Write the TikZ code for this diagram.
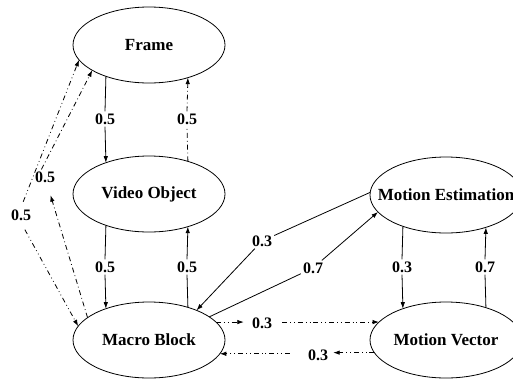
\documentclass[tikz,border=0pt]{standalone}
\usepackage{fontspec}
\setmainfont{Liberation Serif}
\usetikzlibrary{shapes.geometric,arrows.meta}
\tikzset{
  ell/.style={ellipse, draw, line width=0.8pt, minimum width=152pt, minimum height=76pt,
    inner sep=0pt, outer sep=0pt, font=\bfseries\fontsize{17}{20}\selectfont},
  lab/.style={inner sep=2pt, font=\bfseries\fontsize{16}{19}\selectfont},
  ln/.style={line width=0.8pt},
  arr/.style={ln, -{Latex[length=6.5pt,width=4.5pt]}},
  dd/.style={dash pattern=on 5pt off 3pt on 0.8pt off 3pt},
  ddd/.style={dash pattern=on 5pt off 3pt on 0.8pt off 3pt on 0.8pt off 3pt},
}
\begin{document}
\begin{tikzpicture}[x=1pt,y=-1pt]
\useasboundingbox (0,0) rectangle (513,378);
% ellipses
\node[ell] (F) at (149,45)  {\makebox[0pt]{Frame}};
\node[ell] (V) at (149,194) {\makebox[0pt]{Video Object}};
\node[ell] (M) at (149,340) {\makebox[0pt]{Macro Block}};
\node[ell] (E) at (446,195) {\makebox[0pt]{Motion Estimation}};
\node[ell] (R) at (446,340) {\makebox[0pt]{Motion Vector}};
% labels
\node[lab] (a1) at (105,119) {0.5};
\node[lab] (a2) at (187,119) {0.5};
\node[lab] (a3) at (105,267) {0.5};
\node[lab] (a4) at (187,267) {0.5};
\node[lab] (a5) at (45,177) {0.5};
\node[lab] (a6) at (21,215) {0.5};
\node[lab] (b1) at (262,241) {0.3};
\node[lab] (b2) at (313,268) {0.7};
\node[lab] (b3) at (402,267) {0.3};
\node[lab] (b4) at (485,267) {0.7};
\node[lab] (b5) at (262,323) {0.3};
\node[lab] (b6) at (318,355) {0.3};
% Frame <-> Video Object
\draw[ln] (F.-144.8) -- (a1.north);
\draw[arr] (a1.south) -- (V.144.8);
\draw[ln,dd] (V.40.9) -- (a2.south);
\draw[arr,dd] (a2.north) -- (F.-40.9);
% Video Object <-> Macro Block
\draw[ln] (V.-144.8) -- (a3.north);
\draw[arr] (a3.south) -- (M.144.8);
\draw[ln] (M.40.9) -- (a4.south);
\draw[arr] (a4.north) -- (V.-40.9);
% Macro Block <-> Frame (left)
\draw[arr,dd,shorten >=11pt] (M.160.8) -- (a5);
\draw[arr,dd] (a5.115) -- (F.204.6);
\draw[arr,ddd,shorten <=6pt] (a6.north) -- (F.192);
\draw[arr,ddd,shorten <=8pt] (a6.south) -- (M.169);
% Motion Estimation <-> Macro Block
\draw[ln] (E.178) -- (b1);
\draw[arr] (b1) -- (M.32);
\draw[ln] (M.21.6) -- (b2);
\draw[arr] (b2) -- (E.194.6);
% Motion Estimation <-> Motion Vector
\draw[ln] (E.-144.8) -- (b3.north);
\draw[arr] (b3.south) -- (R.144.8);
\draw[ln] (R.39.9) -- (b4.south);
\draw[arr] (b4.north) -- (E.-39.9);
% Macro Block <-> Motion Vector
\draw[arr,ddd,shorten >=6pt] (M.15.3) -- (M.15.3 -| b5.west);
\draw[arr,ddd,shorten <=8pt] (b5.east |- R.165.8) -- (R.165.8);
\draw[arr,ddd,shorten >=3pt] (R.190.7) -- (R.190.7 -| b6.east);
\draw[arr,ddd,shorten <=16pt] (b6.west |- M.-11.2) -- (M.-11.2);
\end{tikzpicture}
\end{document}
